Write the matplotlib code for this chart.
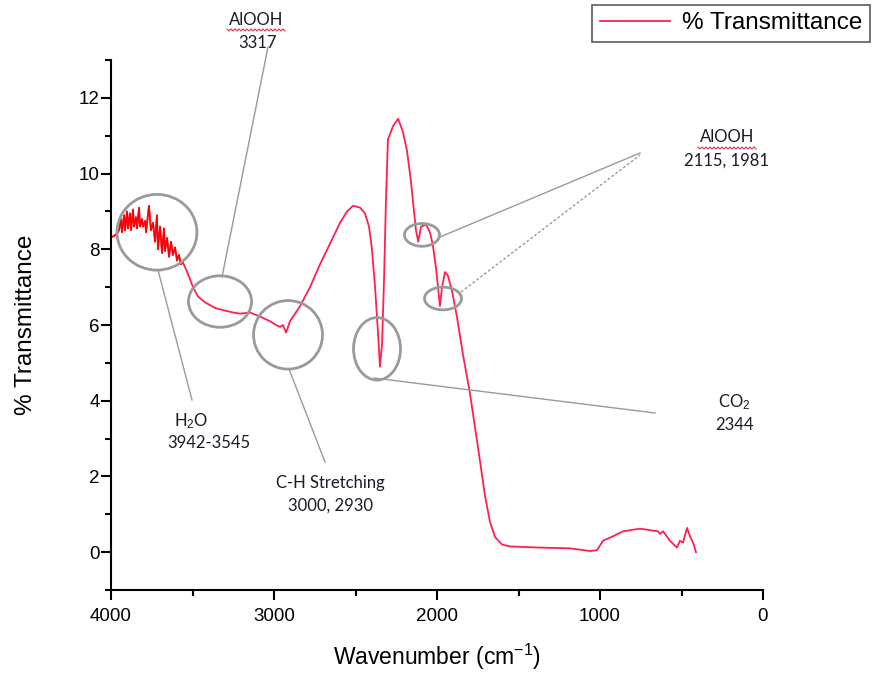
import numpy as np
import matplotlib
matplotlib.use("Agg")
import matplotlib.pyplot as plt
from matplotlib.patches import Ellipse
from matplotlib.ticker import MultipleLocator

plt.rcParams["mathtext.fontset"] = "custom"
plt.rcParams["mathtext.rm"] = "Liberation Sans"
plt.rcParams["mathtext.it"] = "Liberation Sans"

# FTIR spectrum, wavenumber (cm-1) vs % transmittance
wn_oh = [4000, 3982, 3963, 3951, 3939, 3933, 3920, 3914, 3902, 3896, 3884, 3877,
         3865, 3859, 3847, 3840, 3828, 3822, 3810, 3804, 3791, 3785, 3767, 3755,
         3742, 3730, 3718, 3712, 3699, 3687, 3675, 3669, 3656, 3644, 3632, 3620,
         3607, 3595, 3583, 3571, 3558]
tr_oh = [8.32, 8.35, 8.42, 8.50, 8.80, 8.45, 8.90, 8.50, 9.00, 8.55, 8.95, 8.50,
         9.05, 8.60, 8.85, 8.55, 9.10, 8.60, 8.80, 8.60, 8.75, 8.45, 9.15, 8.50,
         8.70, 8.20, 8.90, 8.00, 8.60, 7.90, 8.55, 7.95, 8.30, 7.80, 8.20, 7.85,
         8.05, 7.70, 7.85, 7.60, 7.65]

wn_mid = [3528, 3497, 3466, 3423, 3362, 3301, 3250, 3209, 3147, 3074, 3025, 2988,
          2963, 2945, 2926, 2902, 2840, 2779, 2718, 2656, 2595, 2552, 2515, 2472,
          2442, 2417, 2399, 2380, 2362, 2350, 2337, 2325, 2313, 2301, 2270, 2239,
          2209, 2184, 2160, 2141, 2129, 2115, 2098, 2067, 2043, 2025, 2006, 1994,
          1982, 1969, 1951, 1933, 1908, 1877, 1840, 1798, 1767, 1736, 1706, 1675,
          1644, 1601, 1552, 1368, 1184]
tr_mid = [7.35, 7.00, 6.75, 6.60, 6.45, 6.38, 6.33, 6.30, 6.33, 6.20, 6.10, 6.00,
          5.95, 6.00, 5.80, 6.10, 6.50, 7.00, 7.60, 8.15, 8.70, 9.00, 9.15, 9.10,
          8.95, 8.60, 8.00, 7.00, 5.80, 4.90, 5.50, 7.20, 9.30, 10.90, 11.25, 11.45,
          11.10, 10.60, 9.80, 9.00, 8.50, 8.20, 8.60, 8.65, 8.45, 8.10, 7.50, 7.00,
          6.50, 7.00, 7.40, 7.30, 6.90, 6.20, 5.20, 4.20, 3.30, 2.40, 1.50, 0.80,
          0.40, 0.20, 0.15, 0.12, 0.10]

wn_low = [1061, 1018, 982, 920, 859, 755, 693, 644, 632, 613, 571, 528, 509, 491,
          466, 448, 429, 411]
tr_low = [0.03, 0.05, 0.30, 0.42, 0.55, 0.62, 0.58, 0.55, 0.48, 0.55, 0.30, 0.12,
          0.30, 0.25, 0.64, 0.42, 0.25, 0.00]

x_ticks = [4000, 3000, 2000, 1000, 0]
y_ticks = [0, 2, 4, 6, 8, 10, 12]

wn = np.array(wn_oh + wn_mid + wn_low, dtype=float)
tr = np.array(tr_oh + tr_mid + tr_low, dtype=float)

LINE = "#ff2050"
GREY = "#9a9a9a"
TXT = "#1a1a28"
ANN_FONT = ["Lato", "DejaVu Sans"]
AX_FONT = ["Liberation Sans", "DejaVu Sans"]

fig = plt.figure(figsize=(8.75, 6.79), dpi=100)
ax = fig.add_axes([111 / 875, 1 - 590 / 679, (763 - 111) / 875, (590 - 60) / 679])

ax.plot(wn, tr, color=LINE, lw=1.3, label="% Transmittance")
ax.plot(wn[:len(wn_oh)], tr[:len(wn_oh)], color="#ff0000", lw=1.1)

ax.set_xlim(4000, 0)
ax.set_ylim(-1, 13)
ax.set_xticks(x_ticks)
ax.set_yticks(y_ticks)
ax.xaxis.set_minor_locator(MultipleLocator(500))
ax.yaxis.set_minor_locator(MultipleLocator(1))
for s in ("top", "right"):
    ax.spines[s].set_visible(False)
for s in ("left", "bottom"):
    ax.spines[s].set_linewidth(1.5)
ax.tick_params(which="major", direction="out", length=7, width=1.5,
               labelsize=13.5, colors="black", pad=6)
ax.tick_params(axis="y", which="major", pad=1)
ax.tick_params(which="minor", direction="out", length=4, width=1.5)
for lab in ax.get_xticklabels() + ax.get_yticklabels():
    lab.set_fontfamily(AX_FONT)
ax.set_xlabel("Wavenumber (cm$^{-1}$)", fontsize=16.5, family=AX_FONT, labelpad=12)
ax.set_ylabel("% Transmittance", fontsize=17.5, family=AX_FONT, labelpad=30)

leg = ax.legend(loc="upper right", bbox_to_anchor=(870 / 875, 1 - 5 / 679),
                bbox_transform=fig.transFigure, frameon=True, fancybox=False,
                prop={"family": AX_FONT, "size": 17.5}, handlelength=2.9,
                borderpad=0.3, handletextpad=0.5, borderaxespad=0)
leg.get_frame().set_edgecolor("#333333")
leg.get_frame().set_linewidth(1.2)

# circled band regions: (centre wn, centre %T, width wn, height %T)
rings = [(3718, 8.45, 490, 2.0), (3331, 6.62, 387, 1.36), (2914, 5.74, 423, 1.81),
         (2368, 5.37, 288, 1.65), (2092, 8.38, 215, 0.6), (1963, 6.70, 227, 0.6)]
for cx, cy, w, h in rings:
    ax.add_patch(Ellipse((cx, cy), w, h, fill=False, ec=GREY, lw=2.0, zorder=3))

# leader lines, figure pixel coordinates (x, y from top)
def fpx(x, y):
    return x / 875, 1 - y / 679

leaders = [((158, 270), (192, 400), "-"), ((222, 277), (268, 47), "-"),
           ((289, 369), (325, 462), "-"), ((374, 378), (655, 413), "-"),
           ((440, 237), (640, 153), "-"), ((461, 292), (640, 155), (0, (2, 1.5)))]
for (x0, y0), (x1, y1), ls in leaders:
    a, b = fpx(x0, y0)
    c, d = fpx(x1, y1)
    fig.add_artist(plt.Line2D([a, c], [b, d], color=GREY, lw=1.0, ls=ls))

labels = [("AlOOH", 256, 20), ("3317", 258, 43),
          ("H$_2$O", 191, 421), ("3942-3545", 209, 443),
          ("C-H Stretching", 330, 483), ("3000, 2930", 331, 506),
          ("CO$_2$", 734, 402), ("2344", 734, 425),
          ("AlOOH", 727, 137), ("2115, 1981", 726, 161)]
for t, x, y in labels:
    fig.text(*fpx(x, y), t, ha="center", va="center", fontsize=12,
             family=ANN_FONT, color=TXT)

# spell-check squiggles under the AlOOH captions
for x0, x1, y in [(227, 285, 30), (698, 757, 148)]:
    xs = np.arange(x0, x1 + 0.1, 2.0)
    ys = y + np.where(np.arange(len(xs)) % 2 == 0, -1.0, 1.0)
    fig.add_artist(plt.Line2D(xs / 875, 1 - ys / 679, color="#e0304a", lw=0.8))

fig.savefig("out.png", dpi=100, facecolor="white")
